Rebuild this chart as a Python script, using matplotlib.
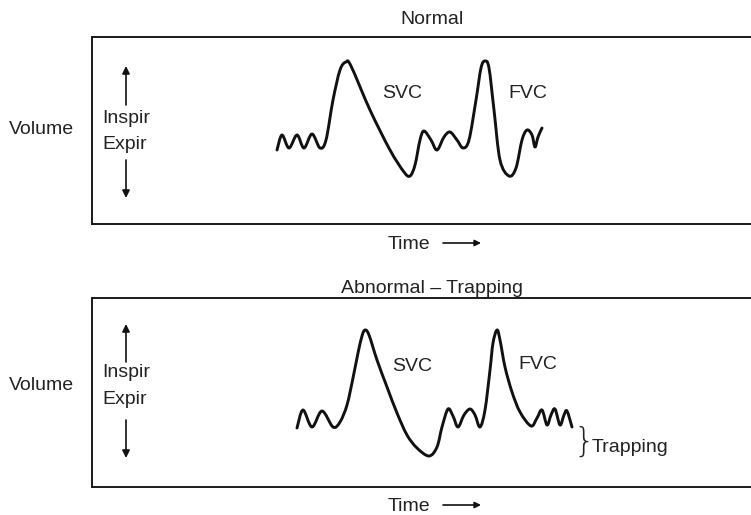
import matplotlib
matplotlib.use("Agg")
import matplotlib.pyplot as plt
import numpy as np
from matplotlib.path import Path
from matplotlib.patches import PathPatch

plt.rcParams['font.family'] = ['Liberation Sans', 'DejaVu Sans']

# ---- data (time, volume) in panel units ----
normal_time = [185, 190, 197, 205, 212, 220, 228, 234, 241, 248, 254, 259, 278, 298, 312, 318,
               323, 328, 332, 339, 345, 352, 358, 365, 371, 377, 384, 389, 393, 397, 402, 408,
               417, 424, 430, 435, 440, 443, 446, 450]
normal_volume = [74, 89, 76, 89, 76, 90, 76, 84, 124, 154, 162, 158, 114, 74, 52, 48,
                 59, 84, 93, 84, 74, 87, 92, 84, 76, 84, 124, 156, 163, 156, 114, 64,
                 48, 56, 84, 94, 89, 77, 87, 96]

trap_time = [205, 211, 220, 230, 241, 248, 255, 261, 266, 270, 273, 277, 285, 295, 305, 315,
             325, 337, 345, 350, 356, 361, 366, 372, 378, 383, 388, 393, 398, 401, 405, 408,
             413, 420, 428, 439, 445, 450, 455, 459, 463, 468, 472, 475, 480]
trap_volume = [59, 77, 60, 76, 60, 65, 82, 109, 134, 151, 157, 152, 127, 100, 74, 52,
               39, 31, 40, 60, 78, 71, 60, 72, 78, 72, 60, 77, 117, 144, 157, 147,
               120, 95, 75, 61, 69, 77, 62, 72, 78, 62, 72, 76, 60]

titles = ["Normal", "Abnormal \u2013 Trapping"]

W, H = 751, 515
fig = plt.figure(figsize=(W / 100, H / 100), dpi=100)


def smooth_path(xs, ys):
    p = np.column_stack([xs, ys]).astype(float)
    n = len(p)
    verts = [p[0]]
    codes = [Path.MOVETO]
    for i in range(n - 1):
        p0 = p[i - 1] if i > 0 else p[i]
        p1 = p[i]
        p2 = p[i + 1]
        p3 = p[i + 2] if i + 2 < n else p[i + 1]
        c1 = p1 + (p2 - p0) / 6.0
        c2 = p2 - (p3 - p1) / 6.0
        verts += [c1, c2, p2]
        codes += [Path.CURVE4] * 3
    return Path(verts, codes)


def fx(x):
    return x / W


def fy(y):
    return 1 - y / H


def panel(top, bottom, t, v):
    ax = fig.add_axes([fx(92), fy(bottom), 1 - fx(92), (bottom - top) / H])
    ax.set_xlim(0, W - 92)
    ax.set_ylim(0, bottom - top)
    ax.set_xticks([])
    ax.set_yticks([])
    for s in ['left', 'top', 'bottom']:
        ax.spines[s].set_linewidth(1.4)
        ax.spines[s].set_color('#1a1a1a')
    ax.spines['right'].set_visible(False)
    ax.add_patch(PathPatch(smooth_path(t, v), facecolor='none', edgecolor='#111111',
                           lw=2.1, capstyle='round', joinstyle='round'))
    return ax


ax1 = panel(37, 224, normal_time, normal_volume)
ax2 = panel(298, 487, trap_time, trap_volume)

FS = 14
tc = '#222222'


def txt(x, y, s, ha='left', **kw):
    fig.text(fx(x), fy(y), s, ha=ha, va='baseline', fontsize=FS, color=tc, **kw)


def arrow(x0, y0, x1, y1, ms=11):
    fig.add_artist(matplotlib.patches.FancyArrowPatch(
        (fx(x0), fy(y0)), (fx(x1), fy(y1)), transform=fig.transFigure,
        arrowstyle='-|>', mutation_scale=ms, lw=1.2, color='#111111',
        shrinkA=0, shrinkB=0))


# top panel text
txt(432, 24, titles[0], ha='center')
txt(9, 134, "Volume")
txt(102, 123, "Inspir")
txt(102, 149, "Expir")
txt(382, 98, "SVC")
txt(508, 98, "FVC")
txt(388, 249, "Time")
arrow(443, 243, 481, 243, ms=9)
arrow(126, 105, 126, 66)
arrow(126, 160, 126, 198)

# bottom panel text
txt(432, 293, titles[1], ha='center')
txt(9, 390, "Volume")
txt(102, 377, "Inspir")
txt(102, 404, "Expir")
txt(392, 371, "SVC")
txt(518, 369, "FVC")
txt(592, 452, "Trapping")
fig.text(fx(584), fy(442), "}", ha='center', va='center', fontsize=24, color=tc,
         fontweight='light', family='DejaVu Sans')
txt(388, 511, "Time")
arrow(443, 505, 481, 505, ms=9)
arrow(126, 362, 126, 324)
arrow(126, 420, 126, 458)

fig.savefig("out.png", dpi=100, facecolor='white')
